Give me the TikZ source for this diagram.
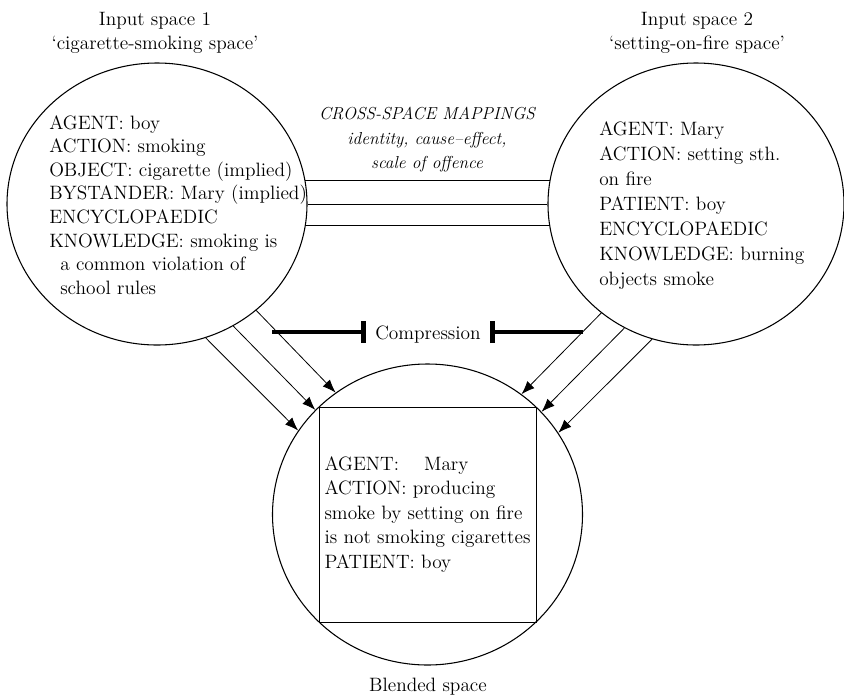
\documentclass[tikz,border=0pt]{standalone}
\usepackage{fontspec}
\usetikzlibrary{shapes.geometric,arrows.meta}
\begin{document}
\begin{tikzpicture}[x=0.75pt,y=-0.75pt,
  space/.style={ellipse,draw,line width=0.8pt,inner sep=0pt},
  txtblock/.style={inner sep=0pt,align=left,anchor=north west},
  link/.style={line width=0.6pt},
  proj/.style={line width=0.6pt,-{Latex[length=10pt,width=7.5pt]}},
  compline/.style={line width=3.3pt,-{Bar[width=16.5pt]}},
  ftA/.style={font=\fontsize{14.5}{17.7}\selectfont},
  ftB/.style={font=\fontsize{14.5}{18.75}\selectfont},
  ftC/.style={font=\fontsize{14.5}{18.4}\selectfont},
  ftT/.style={font=\fontsize{14.5}{18}\selectfont},
  ftI/.style={font=\itshape\fontsize{13}{18.4}\selectfont}]
\useasboundingbox (0,0) rectangle (844,697);

% circles
\node[space,minimum width=225pt,minimum height=211.5pt] (in1) at (157,204) {};
\node[space,minimum width=222pt,minimum height=211.5pt] (in2) at (696,204) {};
\node[space,minimum width=232.5pt,minimum height=225.75pt] (bl) at (427.5,514.5) {};

% titles
\node[ftT,align=center,inner sep=0pt,anchor=north] (t1) at (155,12) {Input space 1\\‘cigarette-smoking space’};
\node[ftT,align=center,inner sep=0pt,anchor=north] (t2) at (697,12) {Input space 2\\‘setting-on-fire space’};
\node[ftT,inner sep=0pt,anchor=base] (t3) at (428,691) {Blended space};

% input space 1 text
\node[txtblock,ftA] (x1) at (49,115) {AGENT: boy\\ACTION: smoking\\OBJECT: cigarette (implied)\\BYSTANDER: Mary (implied)\\ENCYCLOPAEDIC\\KNOWLEDGE: smoking is\\\hspace*{8.25pt}a common violation of\\\hspace*{8.25pt}school rules};

% input space 2 text
\node[txtblock,ftB] (x2) at (599,121) {AGENT: Mary\\ACTION: setting sth.\\on fire\\PATIENT: boy\\ENCYCLOPAEDIC\\KNOWLEDGE: burning\\objects smoke};

% blended square
\node[draw,line width=0.7pt,minimum width=162.75pt,minimum height=161.25pt,align=left,ftC] (sq) at (427.5,514.5)
  {AGENT:\hspace{1.3em}Mary\\ACTION: producing\\smoke by setting on fire\\is not smoking cigarettes\\PATIENT: boy};

% cross-space mappings
\node[ftI,align=center,inner sep=0pt,anchor=north] (cross) at (427,107) {CROSS-SPACE MAPPINGS\\identity, cause–effect,\\scale of offence};
\draw[link] (in1.9.2) -- (in1.9.2 -| in2.170.65);
\draw[link] (in1.0.4) -- (in1.0.4 -| in2.179.6);
\draw[link] (in1.-8.8) -- (in1.-8.8 -| in2.188.96);

% projections
\draw[proj] (in1.-70.7) -- (bl.147.5);
\draw[proj] (in1.-58.6) -- (bl.137.6);
\draw[proj] (in1.-47.8) -- (bl.127.6);
\draw[proj] (in2.-131.4) -- (bl.52.4);
\draw[proj] (in2.-120.5) -- (bl.42.4);
\draw[proj] (in2.-108.1) -- (bl.32.1);

% compression
\node[ftT,inner sep=0pt,inner xsep=7pt,anchor=base] (cmp) at (428,339) {Compression};
\coordinate (cl) at (272,332);
\coordinate (cr) at (583,332);
\draw[compline] (cl) -- (cl -| cmp.west);
\draw[compline] (cr) -- (cr -| cmp.east);
\end{tikzpicture}
\end{document}
